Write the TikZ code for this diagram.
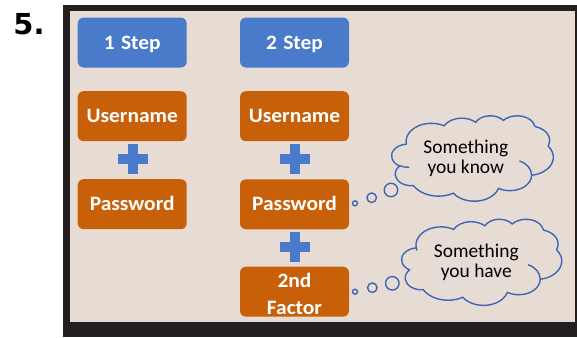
\documentclass[tikz,border=0pt]{standalone}
\usepackage{fontspec}
\setmainfont{Carlito}
\newfontfamily\boxfont{Carlito}[FakeStretch=1.05]
\newfontfamily\numfont{DejaVu Sans}
\definecolor{bgbeige}{HTML}{E6DCD3}
\definecolor{framedark}{HTML}{231F20}
\definecolor{boxblue}{HTML}{4A7BCB}
\definecolor{boxorange}{HTML}{C8600A}
\definecolor{cloudblue}{HTML}{3D66B5}
\tikzset{
  basebox/.style={rounded corners=6bp, minimum width=109bp, minimum height=50bp,
    inner sep=0pt, text=white, align=center,
    font=\boxfont\fontsize{20.5}{26.5}\selectfont\bfseries},
  oneline/.style={text height=13.2bp, text depth=0pt},
  bluebox/.style={basebox, oneline, fill=boxblue},
  orangebox/.style={basebox, oneline, fill=boxorange},
  orangetwo/.style={basebox, fill=boxorange},
  plusv/.style={fill=boxblue, minimum width=10bp, minimum height=30bp, inner sep=0pt},
  plush/.style={fill=boxblue, minimum width=30bp, minimum height=10bp, inner sep=0pt},
  bubble/.style={circle, draw=cloudblue, line width=1.4bp, inner sep=0pt},
  cloudtext/.style={align=center, text=black, inner sep=0pt, font=\fontsize{19.5}{20}\selectfont}
}
% arc in PowerPoint (visual angle) convention, units = 1/100 of shape unit
\newcommand\pparc[4]{%
  \pgfmathsetmacro\ppa{atan2((#3)*sin(#1),(#4)*cos(#1))}%
  \pgfmathsetmacro\ppb{atan2((#3)*sin((#1)+(#2)),(#4)*cos((#1)+(#2)))}%
  \pgfmathsetmacro\ppe{\ppa+mod(\ppb-\ppa+720,360)}%
  \pgfpatharc{\ppa}{\ppe}{#3pt and #4pt}}
\newcommand\ppcloudoutline{%
  \pgfpathmoveto{\pgfpoint{39pt}{143.7pt}}%
  \pparc{-190.487}{123.780}{67.53}{91.90}%
  \pparc{-144.102}{89.945}{53.33}{72.67}%
  \pparc{-145.808}{99.723}{43.65}{59.45}%
  \pparc{-130.986}{117.242}{48.57}{65.95}%
  \pparc{-78.709}{109.027}{53.33}{72.73}%
  \pparc{-46.267}{130.269}{67.75}{92.20}%
  \pparc{0.625}{114.033}{57.85}{78.67}%
  \pparc{22.452}{115.173}{67.52}{92.15}%
  \pparc{66.243}{75.711}{77.20}{105.43}%
  \pparc{-274.942}{146.736}{43.60}{59.18}%
  \pparc{-246.829}{152.519}{43.45}{59.45}%
  \pgfpathclose}
\newcommand\ppinner[6]{%
  \pgfpathmoveto{\pgfpoint{#1pt}{#2pt}}%
  \pparc{#3}{#4}{#5}{#6}}
\begin{document}
\begin{tikzpicture}[x=1bp,y=-1bp]
\useasboundingbox (0,0) rectangle (577,337);
\fill[white] (0,0) rectangle (577,337);
\fill[framedark] (62.5,4.5) rectangle (577,337);
\fill[bgbeige] (70,11) rectangle (575,321.5);

\node[font=\numfont\bfseries\fontsize{29}{29}\selectfont, anchor=base west, inner sep=0pt] (num) at (13.3,34.3) {5.};

% column 1
\node[bluebox] (s1) at (132.2,42.5) {1\hspace{1.5bp} Step};
\node[orangebox] (u1) at (132.2,116.2) {Username};
\node[plusv] (p1v) at (132.5,159) {};
\node[plush] (p1h) at (132.5,159) {};
\node[orangebox] (pw1) at (132.2,204.2) {Password};

% column 2
\node[bluebox] (s2) at (294.5,42.5) {2\hspace{1.5bp} Step};
\node[orangebox] (u2) at (294.5,116.2) {Username};
\node[plusv] (p2v) at (294.5,159) {};
\node[plush] (p2h) at (294.5,159) {};
\node[orangebox] (pw2) at (294.5,204.3) {Password};
\node[plusv] (p3v) at (294.5,246.7) {};
\node[plush] (p3h) at (294.5,246.7) {};
\node[orangetwo, minimum height=50bp] (f2) at (294.5,291.7) {};
\node[text=white, align=center, inner sep=0pt,
  font=\boxfont\fontsize{20.5}{26.5}\selectfont\bfseries] (f2t) at (294.5,294) {2nd\\Factor};

% cloud 1
\begin{scope}[shift={(391.7,115.5)}, xscale=0.3755, yscale=-0.1985]
  \pgfsetlinewidth{1.4bp}\pgfsetstrokecolor{cloudblue}
  \ppcloudoutline
  \ppinner{46.93}{261.77}{86.742}{26.430}{43.45}{59.45}%
  \ppinner{341.29}{229.54}{-70.292}{70.917}{57.85}{78.67}%
  \pgfusepath{stroke}
\end{scope}
\node[cloudtext] (t1) at (465.8,158.7) {Something\\you know};
\node[bubble, minimum size=5bp] (b1a) at (355,203.3) {};
\node[bubble, minimum size=9.5bp] (b1b) at (371.7,197.7) {};
\node[bubble, minimum size=13.5bp] (b1c) at (391,190) {};

% cloud 2
\begin{scope}[shift={(401.7,219)}, xscale=0.3718, yscale=-0.2]
  \pgfsetlinewidth{1.4bp}\pgfsetstrokecolor{cloudblue}
  \ppcloudoutline
  \ppinner{41.27}{157.89}{157.654}{11.858}{67.53}{91.90}%
  \ppinner{341.29}{229.54}{-70.292}{70.917}{57.85}{78.67}%
  \pgfusepath{stroke}
\end{scope}
\node[cloudtext] (t2) at (476.3,262.3) {Something\\you have};
\node[bubble, minimum size=5bp] (b2a) at (355,291.7) {};
\node[bubble, minimum size=9.5bp] (b2b) at (372.3,287.7) {};
\node[bubble, minimum size=13.5bp] (b2c) at (392.3,283.3) {};
\end{tikzpicture}
\end{document}
